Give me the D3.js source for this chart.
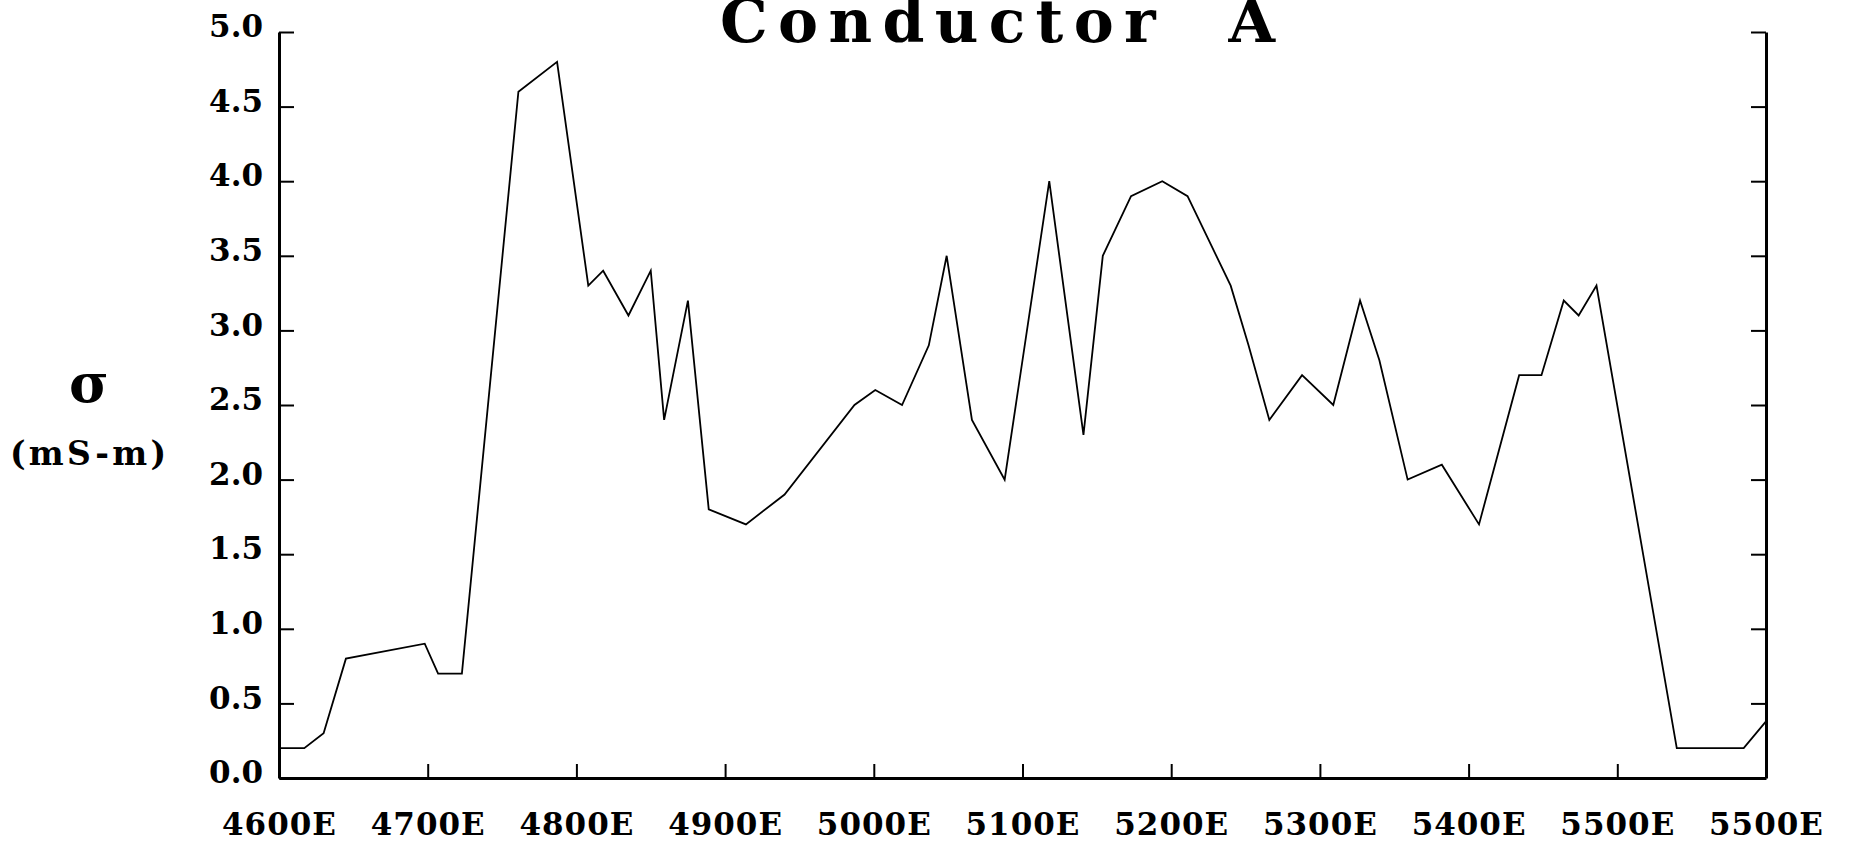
<!DOCTYPE html>
<html>
<head>
<meta charset="utf-8">
<script src="https://cdn.jsdelivr.net/npm/d3@7"></script>
<style>
  html, body { margin: 0; padding: 0; background: #fff; }
  svg { display: block; }
  .tick-label { font-family: "DejaVu Serif", serif; font-weight: bold; font-size: 31px; fill: #000; }
</style>
</head>
<body>
<div id="chart"></div>
<script>
/************************
 *  Data
 ************************/
// station positions along the line (E)
const stations = [
  4600, 4617, 4630, 4645, 4698, 4707, 4723, 4761, 4787, 4808,
  4818, 4835, 4850, 4859, 4875, 4889, 4914, 4940, 4987, 5001,
  5019, 5037, 5049, 5066, 5088, 5118, 5141, 5154, 5173, 5194,
  5211, 5240, 5252, 5266, 5288, 5309, 5327, 5340, 5359, 5382,
  5407, 5434, 5449, 5464, 5474, 5486, 5540, 5585, 5600
];
// conductivity sigma (mS-m)
const sigma = [
  0.2, 0.2, 0.3, 0.8, 0.9, 0.7, 0.7, 4.6, 4.8, 3.3,
  3.4, 3.1, 3.4, 2.4, 3.2, 1.8, 1.7, 1.9, 2.5, 2.6,
  2.5, 2.9, 3.5, 2.4, 2.0, 4.0, 2.3, 3.5, 3.9, 4.0,
  3.9, 3.3, 2.9, 2.4, 2.7, 2.5, 3.2, 2.8, 2.0, 2.1,
  1.7, 2.7, 2.7, 3.2, 3.1, 3.3, 0.2, 0.2, 0.38
];
const yTicks = [0, 0.5, 1, 1.5, 2, 2.5, 3, 3.5, 4, 4.5, 5];
const xTicks = [4600, 4700, 4800, 4900, 5000, 5100, 5200, 5300, 5400, 5500, 5600];
const xTickLabels = ["4600E", "4700E", "4800E", "4900E", "5000E", "5100E",
                     "5200E", "5300E", "5400E", "5500E", "5500E"];

/************************
 *  Setup
 ************************/
const width = 1855;
const height = 846;
const plot = { left: 279, right: 1766, top: 32, bottom: 778 };

const svg = d3.select("#chart")
  .append("svg")
  .attr("width", width)
  .attr("height", height);

const x = d3.scaleLinear().domain([4600, 5600]).range([plot.left, plot.right]);
const y = d3.scaleLinear().domain([0, 5]).range([plot.bottom, plot.top]);

/************************
 *  Axes
 ************************/
function styleAxis(g) {
  g.select(".domain").attr("stroke", "#000").attr("stroke-width", 3);
  g.selectAll(".tick line").attr("stroke", "#000").attr("stroke-width", 2);
  g.selectAll(".tick text").attr("class", "tick-label").attr("fill", "#000");
}

// left axis, ticks point inward
svg.append("g")
  .attr("transform", `translate(${plot.left},0)`)
  .call(d3.axisLeft(y).tickValues(yTicks).tickSizeInner(-15).tickSizeOuter(0)
    .tickPadding(16).tickFormat(d3.format(".1f")))
  .call(styleAxis)
  .call(g => g.selectAll(".tick text").attr("dy", "0.15em"));

// right axis, no labels
svg.append("g")
  .attr("transform", `translate(${plot.right},0)`)
  .call(d3.axisRight(y).tickValues(yTicks).tickSizeInner(-15).tickSizeOuter(0)
    .tickFormat(""))
  .call(styleAxis);

// bottom axis
svg.append("g")
  .attr("transform", `translate(0,${plot.bottom})`)
  .call(d3.axisBottom(x).tickValues(xTicks).tickSizeInner(-14).tickSizeOuter(0)
    .tickPadding(35).tickFormat((d, i) => xTickLabels[i]))
  .call(styleAxis)
  .call(g => g.selectAll(".tick text").attr("letter-spacing", "1px"));

/************************
 *  Profile line
 ************************/
const line = d3.line()
  .x((d, i) => x(stations[i]))
  .y(d => y(d));

svg.append("path")
  .datum(sigma)
  .attr("d", line)
  .attr("fill", "none")
  .attr("stroke", "#000")
  .attr("stroke-width", 1.8)
  .attr("stroke-linejoin", "miter");

/************************
 *  Titles
 ************************/
svg.append("text")
  .attr("x", 720)
  .attr("y", 42)
  .attr("textLength", 555)
  .attr("lengthAdjust", "spacing")
  .style("white-space", "pre")
  .style("font-family", "'DejaVu Serif', serif")
  .style("font-weight", "bold")
  .style("font-size", "60px")
  .text("Conductor  A");

svg.append("text")
  .attr("x", 89)
  .attr("y", 402)
  .attr("text-anchor", "middle")
  .style("font-family", "'DejaVu Serif', serif")
  .style("font-weight", "bold")
  .style("font-size", "54px")
  .text("σ");

svg.append("text")
  .attr("x", 10)
  .attr("y", 465)
  .attr("textLength", 156)
  .attr("lengthAdjust", "spacing")
  .style("font-family", "'DejaVu Serif', serif")
  .style("font-weight", "bold")
  .style("font-size", "33px")
  .text("(mS-m)");
</script>
</body>
</html>
